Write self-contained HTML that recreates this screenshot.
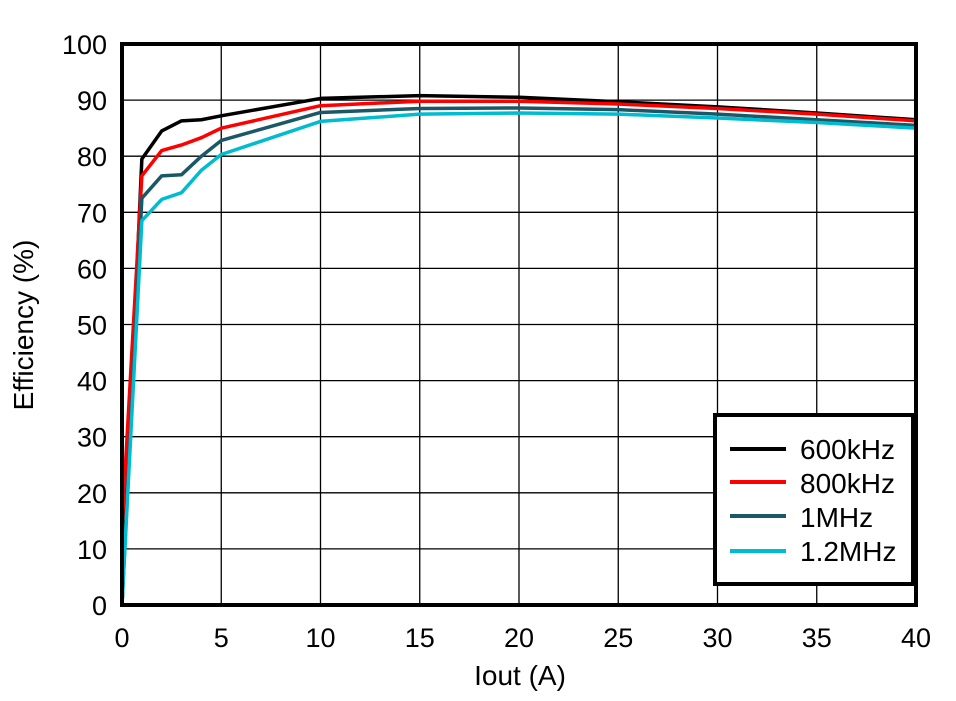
<!DOCTYPE html>
<html><head><meta charset="utf-8"><style>
body{margin:0;background:#fff;}
svg{display:block;font-family:"Liberation Sans",sans-serif;}
</style></head><body>
<svg id="s" width="956" height="701" viewBox="0 0 956 701" xmlns="http://www.w3.org/2000/svg">
<g id="grid" stroke="#000" stroke-width="1.3"></g>
<g id="series" fill="none" stroke-width="3.5" stroke-linejoin="round"></g>
<rect x="122" y="44" width="794" height="561" fill="none" stroke="#000" stroke-width="4"/>
<g id="labels" font-size="27" fill="#000"></g>
<text x="520" y="685" font-size="28" text-anchor="middle">Iout (A)</text>
<text transform="translate(33,325) rotate(-90)" font-size="28" text-anchor="middle">Efficiency (%)</text>
<rect x="715" y="415" width="198" height="169" fill="#fff" stroke="#000" stroke-width="4"/>
<g stroke-width="4">
<line x1="730" y1="449" x2="786" y2="449" stroke="#000"/>
<line x1="730" y1="482" x2="786" y2="482" stroke="#ff0000"/>
<line x1="730" y1="516" x2="786" y2="516" stroke="#1a5868"/>
<line x1="730" y1="551" x2="786" y2="551" stroke="#00bcd0"/>
</g>
<g font-size="28">
<text x="800" y="459">600kHz</text>
<text x="800" y="493">800kHz</text>
<text x="800" y="527">1MHz</text>
<text x="800" y="561">1.2MHz</text>
</g>
</svg>
<script>
var X=function(v){return 122+v*19.85},Y=function(v){return 605-v*5.61};
var ns="http://www.w3.org/2000/svg",g=document.getElementById('grid'),l=document.getElementById('labels'),s=document.getElementById('series');
function el(p,t,a){var e=document.createElementNS(ns,t);for(var k in a)e.setAttribute(k,a[k]);p.appendChild(e);return e;}
for(var i=0;i<=8;i++){var x=X(i*5);if(i>0&&i<8)el(g,'line',{x1:x,y1:44,x2:x,y2:605});var t=el(l,'text',{x:x,y:647,'text-anchor':'middle'});t.textContent=i*5;}
for(var j=0;j<=10;j++){var y=Y(j*10);if(j>0&&j<10)el(g,'line',{x1:122,y1:y,x2:916,y2:y});var t=el(l,'text',{x:107,y:y+10,'text-anchor':'end'});t.textContent=j*10;}
var D=[["#000",[[0,0],[1,79.5],[2,84.5],[3,86.3],[4,86.5],[5,87.2],[10,90.3],[15,90.8],[20,90.5],[25,89.7],[30,88.8],[35,87.7],[40,86.5]]],
["#ff0000",[[0,14],[1,76.5],[2,81],[3,82],[4,83.3],[5,85],[10,89],[15,89.8],[20,89.8],[25,89.3],[30,88.5],[35,87.5],[40,86.3]]],
["#1a5868",[[0,0],[1,72.5],[2,76.5],[3,76.7],[4,80],[5,82.8],[10,87.8],[15,88.5],[20,88.6],[25,88.3],[30,87.5],[35,86.5],[40,85.5]]],
["#00bcd0",[[0,0],[1,68.5],[2,72.3],[3,73.5],[4,77.5],[5,80.3],[10,86.2],[15,87.5],[20,87.7],[25,87.5],[30,86.8],[35,86],[40,85]]]];
D.forEach(function(d){el(s,'polyline',{stroke:d[0],points:d[1].map(function(p){return X(p[0])+','+Y(p[1])}).join(' ')});});
</script>
</body></html>
